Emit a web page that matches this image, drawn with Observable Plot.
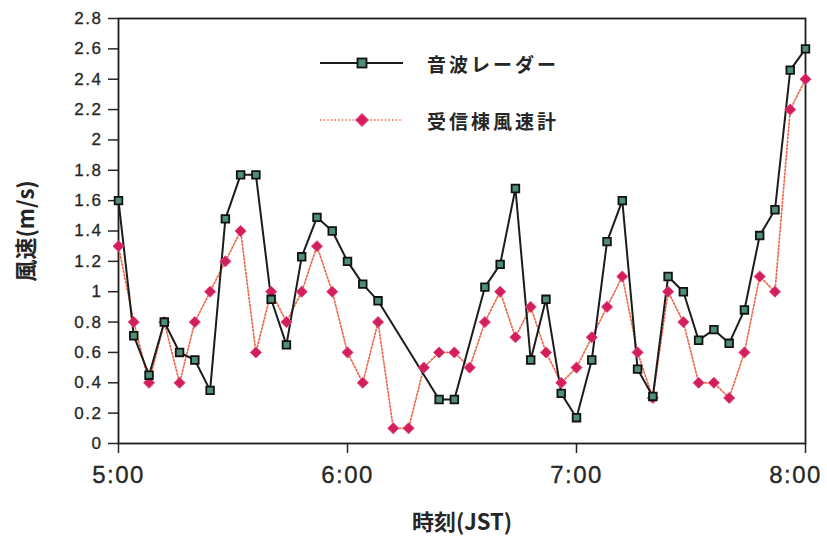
<!DOCTYPE html>
<html><head><meta charset="utf-8">
<script src="https://cdn.jsdelivr.net/npm/d3@7"></script>
<script src="https://cdn.jsdelivr.net/npm/@observablehq/plot@0.6"></script>
<style>
html,body{margin:0;padding:0;background:#fff;}
#wrap{position:relative;width:827px;height:540px;overflow:hidden;}
g[aria-label="x-axis tick label"] text{letter-spacing:1.5px;stroke:#2a2a2a;stroke-width:0.35px;}
g[aria-label="y-axis tick label"] text{letter-spacing:1.5px;stroke:#2a2a2a;stroke-width:0.3px;}
.lg{position:absolute;left:320px;height:40px;display:flex;align-items:center;font-family:"Noto Sans CJK JP",sans-serif;font-weight:bold;font-size:19px;color:#262626;letter-spacing:3px;white-space:nowrap;}
.lg svg{margin-right:24px;}
</style></head>
<body><div id="wrap"></div>
<script>
// x categories (JST, 4-minute samples)
const times = ["5:00","5:04","5:08","5:12","5:16","5:20","5:24","5:28","5:32","5:36",
  "5:40","5:44","5:48","5:52","5:56","6:00","6:04","6:08","6:12","6:16",
  "6:20","6:24","6:28","6:32","6:36","6:40","6:44","6:48","6:52","6:56",
  "7:00","7:04","7:08","7:12","7:16","7:20","7:24","7:28","7:32","7:36",
  "7:40","7:44","7:48","7:52","7:56","8:00"];
// 音波レーダー (null = no sample, line continues across)
const radar = [1.6,0.71,0.45,0.8,0.6,0.55,0.35,1.48,1.77,1.77,
  0.95,0.65,1.23,1.49,1.4,1.2,1.05,0.94,null,null,
  null,0.29,0.29,null,1.03,1.18,1.68,0.55,0.95,0.33,
  0.17,0.55,1.33,1.6,0.49,0.31,1.1,1.0,0.68,0.75,
  0.66,0.88,1.37,1.54,2.46,2.6];
// 受信棟風速計
const anemometer = [1.3,0.8,0.4,0.8,0.4,0.8,1.0,1.2,1.4,0.6,
  1.0,0.8,1.0,1.3,1.0,0.6,0.4,0.8,0.1,0.1,
  0.5,0.6,0.6,0.5,0.8,1.0,0.7,0.9,0.6,0.4,
  0.5,0.7,0.9,1.1,0.6,0.3,1.0,0.8,0.4,0.4,
  0.3,0.6,1.1,1.0,2.2,2.4];
const seriesNames = ["音波レーダー","受信棟風速計"];
const xTickLabels = ["5:00","6:00","7:00","8:00"];
const yTickValues = [0,0.2,0.4,0.6,0.8,1,1.2,1.4,1.6,1.8,2,2.2,2.4,2.6,2.8];
const xTitle = "時刻(JST)";
const yTitle = "風速(m/s)";

const toMin = s => { const [h, m] = s.split(":").map(Number); return h * 60 + m; };
const fmtTime = v => `${Math.floor(v / 60)}:${String(v % 60).padStart(2, "0")}`;

const radarData = times.map((t, i) => ({t: toMin(t), v: radar[i]})).filter(d => d.v != null);
const anemoData = times.map((t, i) => ({t: toMin(t), v: anemometer[i]}));
const xTickVals = xTickLabels.map(toMin);
const lastTick = xTickVals[xTickVals.length - 1];

const C_BLACK = "#1c1c1c", C_GREEN = "#4f8f74", C_RED = "#d21f5b", C_REDLINE = "#ee6a4e";
const cjk = "'Noto Sans CJK JP', sans-serif";

const chart = Plot.plot({
  width: 827, height: 540,
  marginLeft: 118, marginRight: 22, marginTop: 18, marginBottom: 97,
  style: {fontFamily: "'Liberation Sans', Arial, sans-serif", color: "#262626", background: "#fff"},
  x: {domain: [xTickVals[0], lastTick]},
  y: {domain: [yTickValues[0], yTickValues[yTickValues.length - 1]]},
  marks: [
    Plot.axisY({ticks: yTickValues, tickSize: 10, tickPadding: 6, fontSize: 17, strokeWidth: 1.5,
      tickFormat: d => String(+d.toFixed(1)), label: null}),
    // all ticks; last label drawn separately, nudged left to stay inside the page
    Plot.axisX({ticks: xTickVals, tickSize: 10, tickPadding: 12, fontSize: 24, strokeWidth: 1.5,
      tickFormat: v => v === lastTick ? "" : fmtTime(v), label: null}),
    Plot.axisX({ticks: [lastTick], tickSize: 0, tickPadding: 22, fontSize: 24, dx: -10,
      tickFormat: fmtTime, label: null}),
    Plot.frame({stroke: C_BLACK, strokeWidth: 1.8}),
    Plot.line(anemoData, {x: "t", y: "v", stroke: C_REDLINE, strokeWidth: 1.7, strokeDasharray: "1.6,2"}),
    Plot.line(radarData, {x: "t", y: "v", stroke: C_BLACK, strokeWidth: 2}),
    Plot.dot(anemoData, {x: "t", y: "v", symbol: "diamond2", r: 5, fill: C_RED, stroke: "#e2487a", strokeWidth: 1}),
    Plot.dot(radarData, {x: "t", y: "v", symbol: "square", r: 4.3, fill: C_GREEN, stroke: "#111", strokeWidth: 1.8}),
    Plot.text([xTitle], {frameAnchor: "bottom", lineAnchor: "top", dy: 71, fontSize: 22, fontWeight: "bold",
      fontFamily: cjk, fill: "#262626"}),
    Plot.text([yTitle], {frameAnchor: "left", textAnchor: "middle", rotate: -90, dx: -92, fontSize: 22, fontWeight: "bold",
      fontFamily: cjk, fill: "#262626"})
  ]
});
const wrap = document.getElementById("wrap");
wrap.appendChild(chart);

// legend (HTML overlay inside the plot area)
const swatches = [
  `<svg width="83" height="20"><line x1="0" y1="10" x2="83" y2="10" stroke="${C_BLACK}" stroke-width="2"/><rect x="37.5" y="5.5" width="9" height="9" fill="${C_GREEN}" stroke="#111" stroke-width="1.8"/></svg>`,
  `<svg width="83" height="20"><line x1="0" y1="10" x2="83" y2="10" stroke="${C_REDLINE}" stroke-width="1.7" stroke-dasharray="1.6,2"/><path d="M42,3.5L48.5,10L42,16.5L35.5,10Z" fill="${C_RED}" stroke="#e2487a" stroke-width="1"/></svg>`
];
const rowTops = [43, 100];
seriesNames.forEach((name, i) => {
  const row = document.createElement("div");
  row.className = "lg";
  row.style.top = rowTops[i] + "px";
  row.innerHTML = swatches[i] + `<span>${name}</span>`;
  wrap.appendChild(row);
});
</script>
</body></html>
